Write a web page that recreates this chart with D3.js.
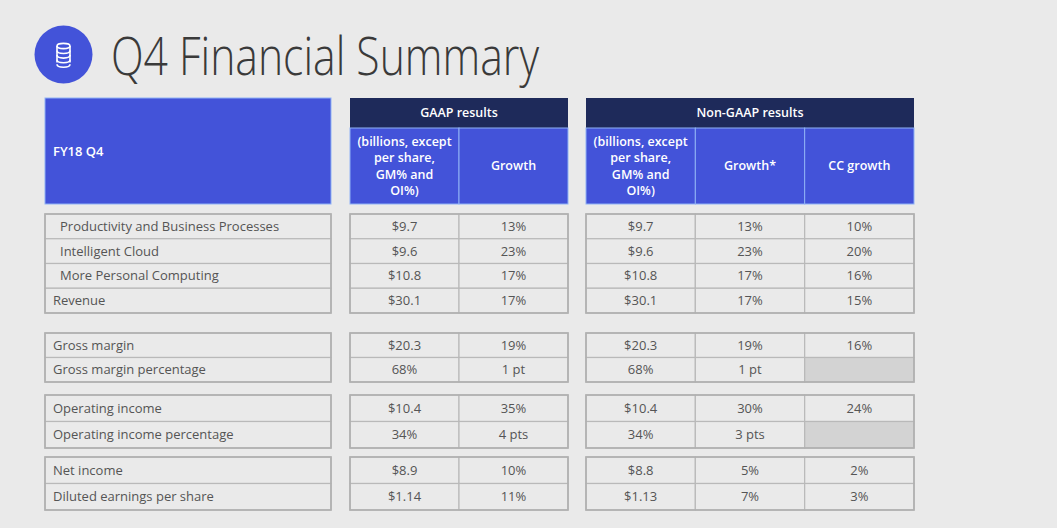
<!DOCTYPE html>
<html>
<head>
<meta charset="utf-8">
<script src="https://cdn.jsdelivr.net/npm/d3@7"></script>
<style>
  html, body { margin: 0; padding: 0; background: #eaeaea; }
  svg { display: block; font-family: "Open Sans", "Noto Sans", sans-serif; }
</style>
</head>
<body>
<div id="chart"></div>
<script>
const title = 'Q4 Financial Summary'
const periodLabel = 'FY18 Q4'

const rowLabels = [
  'Productivity and Business Processes',
  'Intelligent Cloud',
  'More Personal Computing',
  'Revenue',
  'Gross margin',
  'Gross margin percentage',
  'Operating income',
  'Operating income percentage',
  'Net income',
  'Diluted earnings per share'
]
const indented = [true, true, true, false, false, false, false, false, false, false]
const groupOf = [0, 0, 0, 0, 1, 1, 2, 2, 3, 3]

const gaapValue = ['$9.7', '$9.6', '$10.8', '$30.1', '$20.3', '68%', '$10.4', '34%', '$8.9', '$1.14']
const gaapGrowth = ['13%', '23%', '17%', '17%', '19%', '1 pt', '35%', '4 pts', '10%', '11%']
const nonGaapValue = ['$9.7', '$9.6', '$10.8', '$30.1', '$20.3', '68%', '$10.4', '34%', '$8.8', '$1.13']
const nonGaapGrowth = ['13%', '23%', '17%', '17%', '19%', '1 pt', '30%', '3 pts', '5%', '7%']
const ccGrowth = ['10%', '20%', '16%', '15%', '16%', null, '24%', null, '2%', '3%']

const unitsLines = ['(billions, except', 'per share,', 'GM% and', 'OI%)']

const blocks = [
  { name: 'GAAP results', cols: [
    { head: unitsLines, values: gaapValue },
    { head: ['Growth'], values: gaapGrowth }
  ] },
  { name: 'Non-GAAP results', cols: [
    { head: unitsLines, values: nonGaapValue },
    { head: ['Growth*'], values: nonGaapGrowth },
    { head: ['CC growth'], values: ccGrowth }
  ] }
]

const width = 1057
const height = 528
const blue = '#4353d9'
const navy = '#1e2a5a'
const lineCol = '#b9b9b9'
const textCol = '#555'

// layout of the slide
const labelBox = [45, 331]
const blockBox = [[350, 568], [586, 914]]
const headTop = 98, headMid = 128, headBottom = 204
const groupBox = [[214, 313], [333, 382], [395, 448], [457, 510]]

const svg = d3.select('#chart')
  .append('svg')
  .attr('width', width)
  .attr('height', height)

svg.append('rect').attr('width', width).attr('height', height).attr('fill', '#eaeaea')

// title + icon
const icon = svg.append('g').attr('class', 'icon')
icon.append('circle').attr('cx', 63.5).attr('cy', 54.5).attr('r', 29).attr('fill', blue)
const db = icon.append('g')
  .attr('fill', 'none')
  .attr('stroke', '#fff')
  .attr('stroke-width', 1.6)
db.append('ellipse').attr('cx', 63.5).attr('cy', 46).attr('rx', 6.5).attr('ry', 2.6)
db.append('path').attr('d', 'M57,46 V62.5 M70,46 V62.5')
d3.range(4).forEach(i => {
  const y = 50.5 + i * 4.6
  db.append('path').attr('d', `M57,${y} Q57,${y + 3} 63.5,${y + 3} Q70,${y + 3} 70,${y}`)
})

// Segoe is narrower than what we have, so squeeze to the slide's width
svg.append('text')
  .attr('x', 111)
  .attr('y', 75)
  .attr('font-size', 54)
  .attr('font-weight', 300)
  .attr('fill', '#3a3a3a')
  .attr('textLength', 428)
  .attr('lengthAdjust', 'spacingAndGlyphs')
  .text(title)

// header
const head = svg.append('g').attr('class', 'head')

head.append('rect')
  .attr('x', labelBox[0]).attr('y', headTop)
  .attr('width', labelBox[1] - labelBox[0]).attr('height', headBottom - headTop)
  .attr('fill', blue).attr('stroke', '#8fb2f5').attr('stroke-width', 1)

head.append('text')
  .attr('x', labelBox[0] + 8).attr('y', (headTop + headBottom) / 2)
  .attr('dy', '0.35em')
  .attr('font-size', 13).attr('font-weight', 600).attr('fill', '#fff')
  .text(periodLabel)

blocks.forEach((b, bi) => {
  const [x0, x1] = blockBox[bi]
  const x = d3.scaleBand().domain(d3.range(b.cols.length)).range([x0, x1])
  b.x = x

  head.append('rect')
    .attr('x', x0).attr('y', headTop).attr('width', x1 - x0).attr('height', headMid - headTop)
    .attr('fill', navy)
  head.append('text')
    .attr('x', (x0 + x1) / 2).attr('y', (headTop + headMid) / 2).attr('dy', '0.35em')
    .attr('text-anchor', 'middle').attr('font-size', 12.5).attr('font-weight', 600).attr('fill', '#fff')
    .text(b.name)

  const sub = head.append('g').selectAll('g')
    .data(b.cols)
    .join('g')

  sub.append('rect')
    .attr('x', (d, i) => x(i)).attr('y', headMid)
    .attr('width', x.bandwidth()).attr('height', headBottom - headMid)
    .attr('fill', blue).attr('stroke', '#8fb2f5').attr('stroke-width', 1)

  sub.append('text')
    .attr('text-anchor', 'middle').attr('font-size', 12.5).attr('font-weight', 600).attr('fill', '#fff')
    .attr('x', (d, i) => x(i) + x.bandwidth() / 2)
    .attr('y', (headMid + headBottom) / 2)
    .selectAll('tspan')
    .data(d => d.head)
    .join('tspan')
    .attr('x', function () { return this.parentNode.getAttribute('x') })
    .attr('dy', (d, i, n) => i === 0 ? `${0.35 - (n.length - 1) * 0.65}em` : '1.3em')
    .text(d => d)
})

// body rows
const rows = rowLabels.map((label, i) => ({ label, i, group: groupOf[i] }))
const yScales = groupBox.map((r, g) =>
  d3.scaleBand().domain(rows.filter(d => d.group === g).map(d => d.i)).range(r))
const y = i => yScales[groupOf[i]](i)
const bh = i => yScales[groupOf[i]].bandwidth()

const body = svg.append('g').attr('class', 'body')

function cell(g, x, w, i, txt, anchor, dx) {
  g.append('rect')
    .attr('x', x).attr('y', y(i)).attr('width', w).attr('height', bh(i))
    .attr('fill', txt === null ? '#d3d3d3' : '#eaeaea')
    .attr('stroke', lineCol).attr('stroke-width', 1.2)
  if (txt !== null) {
    g.append('text')
      .attr('x', anchor === 'middle' ? x + w / 2 : x + dx)
      .attr('y', y(i) + bh(i) / 2).attr('dy', '0.35em')
      .attr('text-anchor', anchor)
      .attr('font-size', 13).attr('fill', textCol)
      .text(txt)
  }
}

rows.forEach(d => {
  cell(body, labelBox[0], labelBox[1] - labelBox[0], d.i, d.label, 'start', indented[d.i] ? 15 : 8)
  blocks.forEach(b => {
    b.cols.forEach((c, ci) => {
      cell(body, b.x(ci), b.x.bandwidth(), d.i, c.values[d.i], 'middle')
    })
  })
})

// outer frames of each group
groupBox.forEach(r => {
  ;[labelBox, ...blockBox].forEach(bx => {
    body.append('rect')
      .attr('x', bx[0]).attr('y', r[0]).attr('width', bx[1] - bx[0]).attr('height', r[1] - r[0])
      .attr('fill', 'none').attr('stroke', '#b0b0b0').attr('stroke-width', 1.6)
  })
})
</script>
</body>
</html>
